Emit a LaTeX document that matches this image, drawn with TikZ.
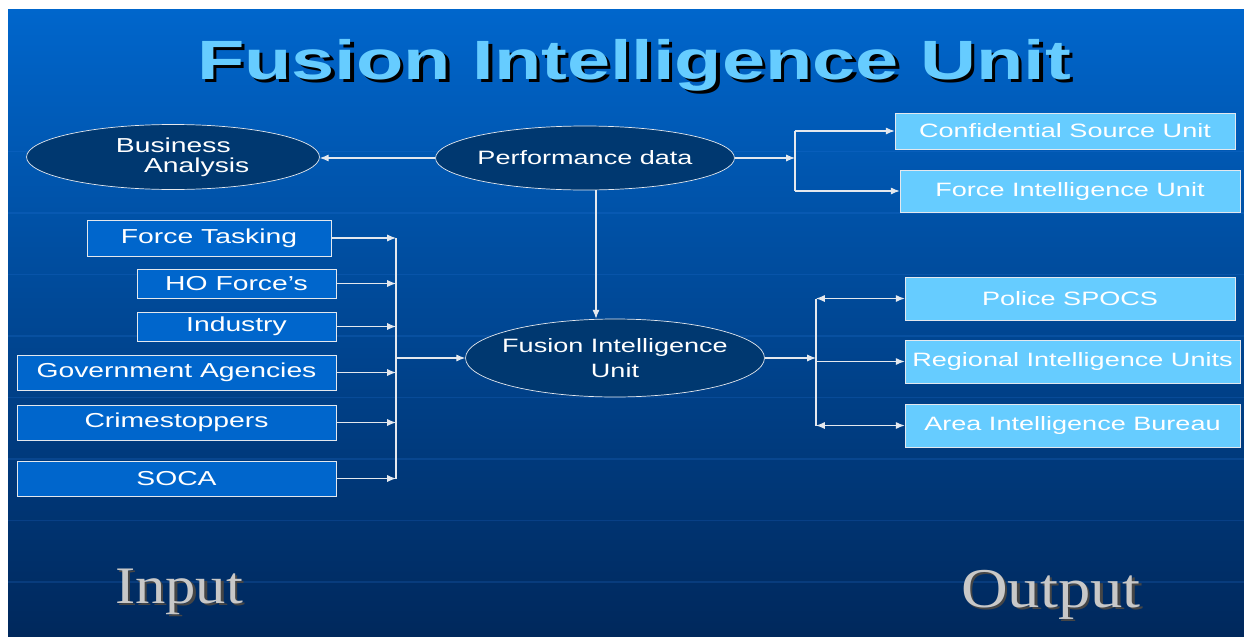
\documentclass[tikz,border=0pt]{standalone}
\usepackage{fontspec}
\setmainfont[FakeStretch=1.4]{Liberation Sans}
\newfontfamily\wordart[FakeStretch=1.15]{Liberation Serif}
\usetikzlibrary{shapes.geometric,positioning,calc,arrows.meta}
\definecolor{bgtop}{RGB}{0,102,204}
\definecolor{bgbot}{RGB}{0,40,92}
\definecolor{gridblue}{RGB}{40,120,220}
\definecolor{inblue}{RGB}{0,102,204}
\definecolor{outblue}{RGB}{102,204,255}
\definecolor{navy}{RGB}{0,56,112}
\definecolor{wire}{RGB}{228,232,238}
\definecolor{wordgray}{RGB}{200,200,200}
\definecolor{wordshade}{RGB}{70,70,70}
\newcommand{\dropshadow}[4]{\makebox[0pt][l]{\hspace{#4}\raisebox{-#4}{\textcolor{#2}{#3}}}\textcolor{#1}{#3}}

\begin{document}
\begin{tikzpicture}[x=0.02cm,y=-0.02cm,
    inbox/.style={draw=wire,fill=inblue,text=white,inner sep=0pt,font=\fontsize{11.5}{13}\selectfont},
    outbox/.style={draw=wire,fill=outblue,text=white,inner sep=0pt,font=\fontsize{11}{13}\selectfont},
    hub/.style={ellipse,draw=wire,fill=navy,text=white,inner ysep=0pt,inner xsep=-0.3cm,align=center},
    link/.style={draw=wire,line width=0.6pt},
    feed/.style={link,-{Latex[length=5pt,width=4pt]}},
    twoway/.style={link,{Latex[length=5pt,width=4pt]}-{Latex[length=5pt,width=4pt]}}]
    \useasboundingbox (0,0) rectangle (1244,636);
    \fill[white] (0,0) rectangle (1244,636);
    \shade[top color=bgtop,bottom color=bgbot] (8,9) rectangle (1244,636);
    \foreach \gy in {151.5,213,...,590}
        \draw[gridblue,opacity=0.2,line width=0.8pt] (8,\gy) -- (1244,\gy);

    \node (title) at (634,67) {\fontsize{31.5}{36}\selectfont\bfseries\dropshadow{outblue}{black}{Fusion Intelligence Unit}{2pt}};

    \node[hub,minimum width=5.86cm,minimum height=1.3cm,font=\fontsize{11.5}{11.5}\selectfont,align=left] (ba) at (173,157) {\hspace*{11pt}Business\\\hspace*{27pt}Analysis};
    \node[hub,minimum width=5.98cm,minimum height=1.28cm,font=\fontsize{11}{13}\selectfont] (perf) at (585,158) {Performance data};
    \node[hub,minimum width=5.98cm,minimum height=1.56cm,font=\fontsize{11}{14}\selectfont] (fiu) at (615,358) {Fusion Intelligence\\Unit};

    \node[inbox,minimum width=4.88cm,minimum height=0.72cm] (task) at (209,238) {Force Tasking};
    \node[inbox,minimum width=3.98cm,minimum height=0.58cm] (ho) at (236.5,283.5) {HO Force's};
    \node[inbox,minimum width=3.98cm,minimum height=0.58cm] (ind) at (236.5,326.5) {Industry};
    \node[inbox,minimum width=6.38cm,minimum height=0.7cm] (gov) at (176.5,372.5) {Government Agencies};
    \node[inbox,minimum width=6.38cm,minimum height=0.7cm] (crime) at (176.5,422.5) {Crimestoppers};
    \node[inbox,minimum width=6.38cm,minimum height=0.7cm] (soca) at (176.5,478.5) {SOCA};

    \node[outbox,minimum width=6.8cm,minimum height=0.72cm] (csu) at (1065,131) {Confidential Source Unit};
    \node[outbox,minimum width=6.8cm,minimum height=0.84cm] (fintel) at (1070,191) {Force Intelligence Unit};
    \node[outbox,minimum width=6.6cm,minimum height=0.86cm] (spocs) at (1070,298.5) {Police SPOCS};
    \node[outbox,minimum width=6.7cm,minimum height=0.86cm] (riu) at (1072.5,361.5) {Regional Intelligence Units};
    \node[outbox,minimum width=6.7cm,minimum height=0.86cm] (aib) at (1072.5,425.5) {Area Intelligence Bureau};

    \node (input) at (179,593) {\wordart\fontsize{30}{30}\selectfont\dropshadow{wordgray}{wordshade}{Input}{1.5pt}};
    \node (output) at (1051,596) {\wordart\fontsize{32}{32}\selectfont\dropshadow{wordgray}{wordshade}{Output}{1.5pt}};

    \coordinate (inbus) at (396,355);
    \coordinate (perfbus) at (795,162);
    \coordinate (outbus) at (816,362);
    \coordinate (drop) at ([xshift=0.22cm]perf.south);

    \foreach \src in {task,ho,ind,gov,crime,soca}
        \draw[feed] (\src.east) -- (inbus |- \src.east);
    \draw[link] (inbus |- task.east) -- (inbus |- soca.east);
    \draw[feed] (inbus |- fiu.west) -- (fiu.west);

    \draw[feed] (perf.west) -- (ba.east |- perf.west);
    \draw[feed] (perf.east) -- (perfbus |- perf.east);
    \draw[link] (perfbus |- csu.west) -- (perfbus |- fintel.west);
    \draw[feed] (perfbus |- csu.west) -- (csu.west);
    \draw[feed] (perfbus |- fintel.west) -- (fintel.west);
    \draw[feed] (drop) -- (drop |- fiu.north);

    \draw[feed] (fiu.east) -- (outbus |- fiu.east);
    \draw[link] (outbus |- spocs.west) -- (outbus |- aib.west);
    \draw[twoway] (outbus |- spocs.west) -- (spocs.west);
    \draw[feed] (outbus |- riu.west) -- (riu.west);
    \draw[twoway] (outbus |- aib.west) -- (aib.west);
\end{tikzpicture}
\end{document}
